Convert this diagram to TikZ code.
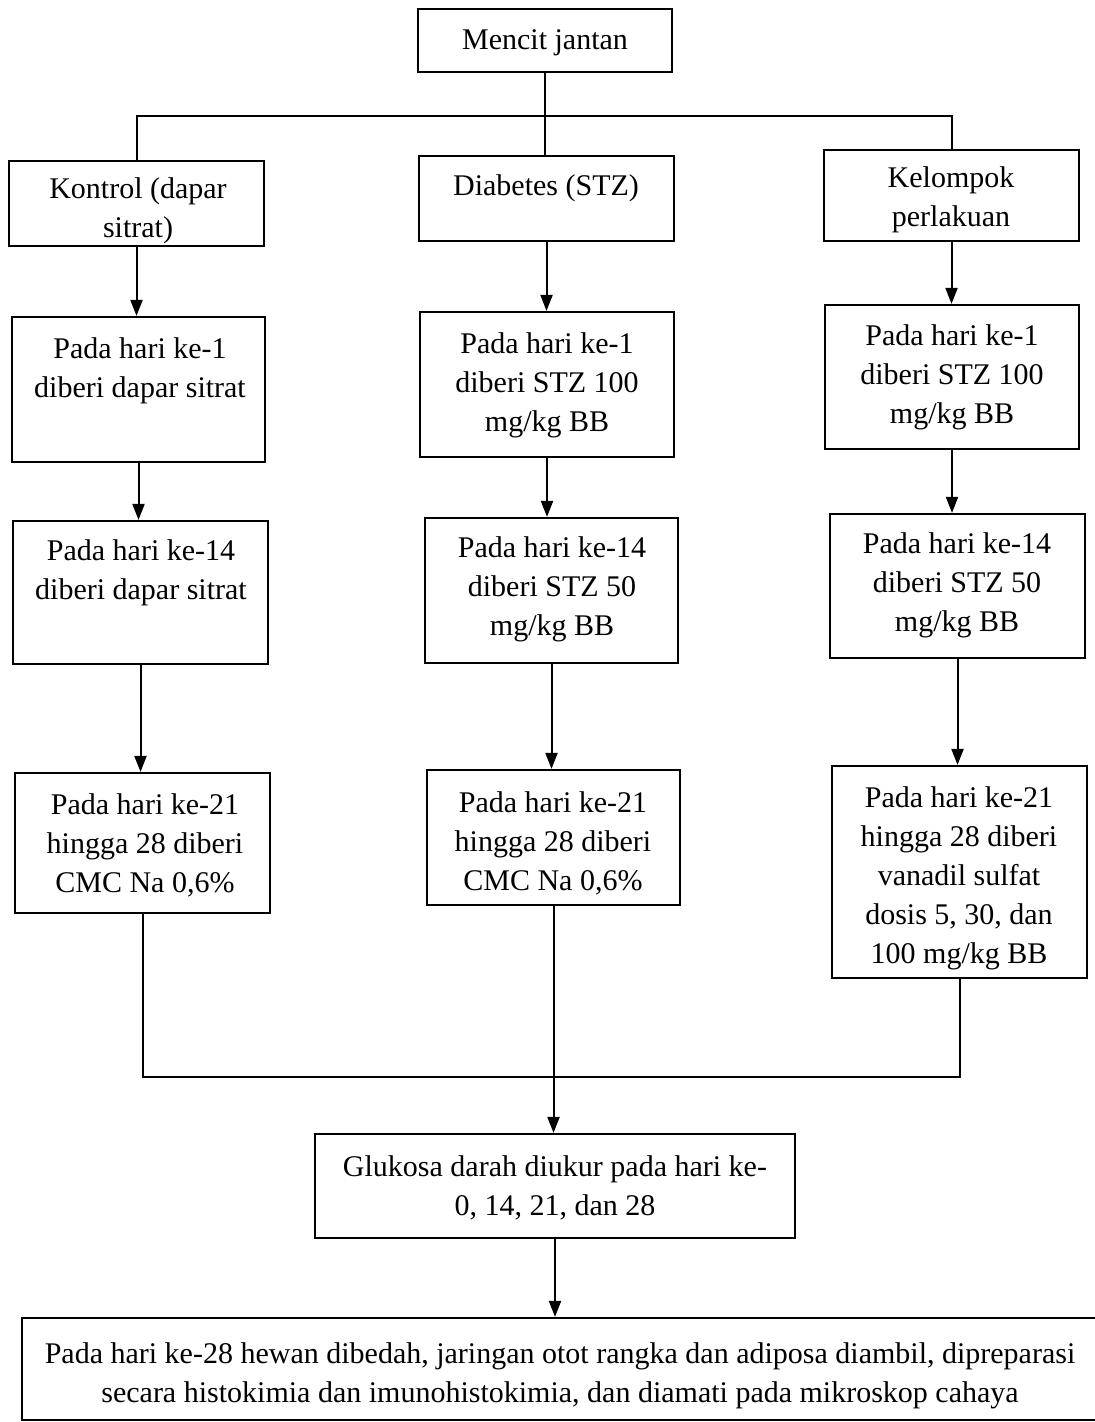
\documentclass[tikz,border=0pt]{standalone}
\usepackage{fontspec}
\setmainfont{Liberation Serif}
\usetikzlibrary{arrows.meta}
\begin{document}
\begin{tikzpicture}[x=0.5pt,y=-0.5pt,
  box/.style={draw, line width=1.1pt, inner sep=0pt, rectangle},
  txt/.style={align=center, inner sep=0pt, font=\fontsize{15}{19.5}\selectfont, yshift=-1.5pt},
  link/.style={line width=1pt},
  arr/.style={line width=1pt, -{Triangle[length=8pt,width=6pt]}}]
\useasboundingbox (0,0) rectangle (1094,1422);
% boxes
\node[box, minimum width=127pt, minimum height=31.5pt] (m) at (545,40.5) {};
\node[box, minimum width=127.5pt, minimum height=42.5pt] (k) at (136.5,203.5) {};
\node[box, minimum width=127.5pt, minimum height=42.5pt] (d) at (546.5,198.5) {};
\node[box, minimum width=127.5pt, minimum height=45.5pt] (p) at (951.5,195.5) {};
\node[box, minimum width=126.5pt, minimum height=72.5pt] (k1) at (138.5,389.5) {};
\node[box, minimum width=127pt, minimum height=72.5pt] (d1) at (547,384.5) {};
\node[box, minimum width=127pt, minimum height=72pt] (p1) at (952,377) {};
\node[box, minimum width=127.5pt, minimum height=71.5pt] (k2) at (140.5,592.5) {};
\node[box, minimum width=126.5pt, minimum height=72.5pt] (d2) at (551.5,590.5) {};
\node[box, minimum width=127.5pt, minimum height=72pt] (p2) at (957.5,586) {};
\node[box, minimum width=127.5pt, minimum height=70pt] (k3) at (142.5,843) {};
\node[box, minimum width=126.5pt, minimum height=67.5pt] (d3) at (553.5,837.5) {};
\node[box, minimum width=127.5pt, minimum height=106pt] (p3) at (959.5,872) {};
\node[box, minimum width=240pt, minimum height=52pt] (g) at (555,1186) {};
\node[box, minimum width=539pt, minimum height=51pt] (b) at (561,1369) {};
% texts
\node[txt] (tm) at (545,40) {Mencit jantan};
\node[txt] (tk) at (138,208) {Kontrol (dapar\\sitrat)};
\node[txt] (td) at (546,185) {Diabetes (STZ)};
\node[txt] (tp) at (951,197) {Kelompok\\perlakuan};
\node[txt] (tk1) at (140,368) {Pada hari ke-1\\diberi dapar sitrat};
\node[txt] (td1) at (547,382) {Pada hari ke-1\\diberi STZ 100\\mg/kg BB};
\node[txt] (tp1) at (952,374) {Pada hari ke-1\\diberi STZ 100\\mg/kg BB};
\node[txt] (tk2) at (141,570) {Pada hari ke-14\\diberi dapar sitrat};
\node[txt] (td2) at (552,586) {Pada hari ke-14\\diberi STZ 50\\mg/kg BB};
\node[txt] (tp2) at (957,582) {Pada hari ke-14\\diberi STZ 50\\mg/kg BB};
\node[txt] (tk3) at (145,842) {Pada hari ke-21\\hingga 28 diberi\\CMC Na 0,6\%};
\node[txt] (td3) at (553,840) {Pada hari ke-21\\hingga 28 diberi\\CMC Na 0,6\%};
\node[txt] (tp3) at (959,875) {Pada hari ke-21\\hingga 28 diberi\\vanadil sulfat\\dosis 5, 30, dan\\100 mg/kg BB};
\node[txt] (tg) at (555,1185) {Glukosa darah diukur pada hari ke-\\0, 14, 21, dan 28};
\node[txt] (tb) at (560,1373) {Pada hari ke-28 hewan dibedah, jaringan otot rangka dan adiposa diambil, dipreparasi\\secara histokimia dan imunohistokimia, dan diamati pada mikroskop cahaya};
% connectors
\coordinate (split) at (545,116);
\draw[link] (m.south) -- (m.south |- d.north);
\draw[link] (k.north) |- (split) -| (p.north);
\draw[arr] (k.south) -- (k.south |- k1.north);
\draw[arr] (d.south) -- (d.south |- d1.north);
\draw[arr] (p.south) -- (p.south |- p1.north);
\draw[arr] (k1.south) -- (k1.south |- k2.north);
\draw[arr] (d1.south) -- (d1.south |- d2.north);
\draw[arr] (p1.south) -- (p1.south |- p2.north);
\draw[arr] (k2.south) -- (k2.south |- k3.north);
\draw[arr] (d2.south) -- (d2.south |- d3.north);
\draw[arr] (p2.south) -- (p2.south |- p3.north);
\coordinate (join) at (553.5,1077);
\draw[link] (k3.south) |- (join) -| (p3.south);
\draw[arr] (d3.south) -- (d3.south |- g.north);
\draw[arr] (g.south) -- (g.south |- b.north);
\end{tikzpicture}
\end{document}
